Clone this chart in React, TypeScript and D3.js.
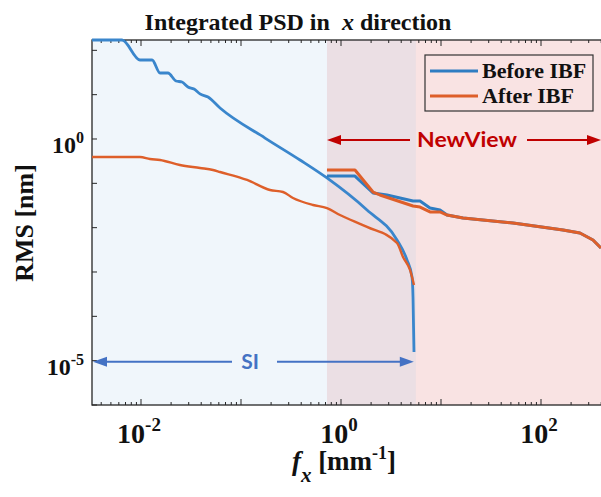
import React from "react";
import * as d3 from "d3";

// Integrated PSD in x direction, before / after IBF, SI and NewView ranges
const beforeSiFx = [0.00324, 0.00646, 0.00977, 0.0129, 0.0155, 0.0186, 0.0224, 0.0257, 0.0295, 0.0339, 0.0389, 0.0468, 0.0617, 0.174, 0.389, 0.724, 1.82, 3.63, 4.57, 5.13, 5.25, 5.37];
const beforeSiRms = [171, 171, 60.5, 60.5, 30.8, 30.8, 20.3, 19.3, 14.9, 13.4, 10.4, 8.85, 5.0, 1.05, 0.336, 0.132, 0.025, 0.00527, 0.00187, 7.7e-4, 2.7e-4, 1.57e-5];

const afterSiFx = [0.00324, 0.00977, 0.0123, 0.0155, 0.0245, 0.0389, 0.0525, 0.0617, 0.115, 0.195, 0.263, 0.331, 0.525, 0.724, 0.977, 1.82, 3.63, 4.17, 4.9, 5.37];
const afterSiRms = [0.393, 0.393, 0.354, 0.336, 0.259, 0.222, 0.2, 0.18, 0.119, 0.0707, 0.0637, 0.0467, 0.0325, 0.0277, 0.0193, 0.0104, 0.00451, 0.00218, 0.00111, 5.09e-4];

const beforeNvFx = [0.724, 1.38, 2.09, 2.88, 3.89, 5.25, 6.17, 7.76, 9.77, 11.5, 16.6, 52.5, 166, 245, 331, 398];
const beforeNvRms = [0.146, 0.146, 0.0605, 0.0546, 0.0467, 0.0399, 0.0399, 0.0277, 0.025, 0.0193, 0.0165, 0.0127, 0.00885, 0.00758, 0.00527, 0.00348];

const afterNvFx = [0.724, 1.38, 2.09, 2.45, 5.25, 6.17, 7.76, 9.77, 11.5, 16.6, 52.5, 166, 245, 331, 398];
const afterNvRms = [0.2, 0.2, 0.0637, 0.0546, 0.0308, 0.0292, 0.0226, 0.0226, 0.0193, 0.0165, 0.0127, 0.00885, 0.00758, 0.00527, 0.00348];

const siRange = [0.00324, 5.6];
const newViewRange = [0.724, 420];

const xLabelExps = [-2, 0, 2];
const yLabelExps = [0, -5];
const legendLabels = ["Before IBF", "After IBF"];

const W = 601;
const H = 497;
const left = 92, top = 40, right = 603, bottom = 405;

const blue = "#2f7dc2";
const orange = "#de5f2a";
const serif = "'Liberation Serif', 'Times New Roman', serif";
const sans = "Lato, 'Open Sans', sans-serif";

export default function App() {
  const x = d3.scaleLog().domain([Math.pow(10, -2.49), Math.pow(10, 2.62)]).range([left, right]);
  const y = d3.scaleLog().domain([1e-6, Math.pow(10, 2.233)]).range([bottom, top]);

  const mk = (fx: number[], rms: number[], smooth: boolean) =>
    d3.line<number>()
      .x((d, i) => x(fx[i]))
      .y((d) => y(d))
      .curve(smooth ? d3.curveMonotoneX : d3.curveLinear)(rms) || "";

  // ticks
  const xMajor: number[] = [];
  const xMinor: number[] = [];
  for (let e = -3; e <= 2; e++) {
    const base = Math.pow(10, e);
    if (e >= -2) xMajor.push(base);
    for (let k = 2; k <= 9; k++) {
      const v = k * base;
      if (v > x.domain()[0] && v < x.domain()[1]) xMinor.push(v);
    }
  }
  const yMajor = d3.range(-6, 3).map((e) => Math.pow(10, e));

  const siL = x(siRange[0]), siR = x(siRange[1]);
  const nvL = x(newViewRange[0]);

  const siY = y(1e-5) + 1;
  const nvY = y(1) + 1;
  const arrowHead = (tipX: number, yy: number, dir: number) =>
    `M${tipX},${yy} L${tipX - dir * 14},${yy - 5} L${tipX - dir * 14},${yy + 5} Z`;

  return (
    <svg width={W} height={H} style={{ display: "block", position: "absolute", left: 0, top: 0, background: "#fff" }}>
      <defs>
        <clipPath id="plotclip">
          <rect x={left} y={top - 2} width={right - left} height={bottom - top + 2} />
        </clipPath>
      </defs>

      {/* shaded ranges */}
      <rect x={siL} y={top} width={siR - siL} height={bottom - top} fill="#f0f6fb" />
      <rect x={nvL} y={top} width={right - nvL} height={bottom - top} fill="#f9e3e3" />
      <rect x={nvL} y={top} width={siR - nvL} height={bottom - top} fill="#ebdfe4" />

      {/* title */}
      <text x={298} y={30} textAnchor="middle" fontFamily={serif} fontWeight="bold" fontSize={24} fill="#111">
        Integrated PSD in{"\u00a0\u00a0"}
        <tspan fontStyle="italic">x</tspan> direction
      </text>

      {/* axes box and ticks */}
      <g stroke="#262626" strokeWidth={1}>
        {xMajor.map((v) => (
          <g key={"xM" + v}>
            <line x1={x(v)} x2={x(v)} y1={bottom} y2={bottom - 6} />
            <line x1={x(v)} x2={x(v)} y1={top} y2={top + 6} />
          </g>
        ))}
        {xMinor.map((v) => (
          <g key={"xm" + v}>
            <line x1={x(v)} x2={x(v)} y1={bottom} y2={bottom - 3} />
            <line x1={x(v)} x2={x(v)} y1={top} y2={top + 3} />
          </g>
        ))}
        {yMajor.map((v) => (
          <line key={"y" + v} x1={left} x2={left + 5} y1={y(v)} y2={y(v)} />
        ))}
        <rect x={left} y={top} width={right - left} height={bottom - top} fill="none" strokeWidth={1.3} />
      </g>

      {/* curves */}
      <g clipPath="url(#plotclip)" fill="none" strokeLinejoin="round">
        <path d={mk(beforeSiFx, beforeSiRms, true)} stroke="#3a86cc" strokeWidth={2.8} />
        <path d={mk(afterSiFx, afterSiRms, true)} stroke={orange} strokeWidth={2.4} />
        <path d={mk(beforeNvFx, beforeNvRms, false)} stroke={blue} strokeWidth={3} />
        <path d={mk(afterNvFx, afterNvRms, false)} stroke={orange} strokeWidth={3} />
      </g>

      {/* NewView arrow */}
      <g stroke="#c00000" fill="#c00000">
        <line x1={nvL + 10} x2={410} y1={nvY} y2={nvY} strokeWidth={2} />
        <path d={arrowHead(nvL, nvY, -1)} stroke="none" />
        <line x1={527} x2={590} y1={nvY} y2={nvY} strokeWidth={2} />
        <path d={arrowHead(601, nvY, 1)} stroke="none" />
      </g>
      <text x={467} y={nvY + 7} textAnchor="middle" fontFamily={sans} fontWeight="bold" fontSize={20}
        fill="#c00000" textLength={100} lengthAdjust="spacingAndGlyphs">NewView</text>

      {/* SI arrow */}
      <g stroke="#4472c4" fill="#4472c4">
        <line x1={left + 10} x2={232} y1={siY} y2={siY} strokeWidth={2} />
        <path d={arrowHead(left + 1, siY, -1)} stroke="none" />
        <line x1={277} x2={siR - 10} y1={siY} y2={siY} strokeWidth={2} />
        <path d={arrowHead(siR - 2, siY, 1)} stroke="none" />
      </g>
      <text x={250} y={siY + 7} textAnchor="middle" fontFamily={sans} fontWeight="bold" fontSize={21} fill="#4472c4">SI</text>

      {/* tick labels */}
      {xLabelExps.map((e) => (
        <text key={"xl" + e} x={x(Math.pow(10, e)) - 2} y={443} textAnchor="middle" fontFamily={serif}
          fontWeight="bold" fontSize={28} fill="#111">
          10<tspan fontSize={19} dy={-12}>{e < 0 ? "-" + -e : e}</tspan>
        </text>
      ))}
      {yLabelExps.map((e) => (
        <text key={"yl" + e} x={84} y={y(Math.pow(10, e)) + 14} textAnchor="end" fontFamily={serif}
          fontWeight="bold" fontSize={24} fill="#111">
          10<tspan fontSize={16} dy={-10}>{e < 0 ? "-" + -e : e}</tspan>
        </text>
      ))}

      {/* axis labels */}
      <text x={344} y={470} textAnchor="middle" fontFamily={serif} fontWeight="bold" fontSize={27} fill="#111">
        <tspan fontStyle="italic">f</tspan>
        <tspan fontStyle="italic" fontSize={21} dy={12}>x</tspan>
        <tspan dy={-12}>{"\u00a0"}[mm</tspan>
        <tspan fontSize={18} dy={-11}>-1</tspan>
        <tspan dy={11}>]</tspan>
      </text>
      <text transform={`translate(33,223) rotate(-90)`} textAnchor="middle" fontFamily={serif} fontWeight="bold"
        fontSize={26} fill="#111">RMS [nm]</text>

      {/* legend */}
      <rect x={425} y={55} width={168} height={56} fill="none" stroke="#333" strokeWidth={1.2} />
      {legendLabels.map((lab, i) => (
        <g key={lab}>
          <line x1={430} x2={478} y1={71 + i * 25} y2={71 + i * 25} stroke={i === 0 ? blue : orange} strokeWidth={3} />
          <text x={482} y={78 + i * 25} fontFamily={serif} fontWeight="bold" fontSize={22} fill="#111">{lab}</text>
        </g>
      ))}
    </svg>
  );
}
